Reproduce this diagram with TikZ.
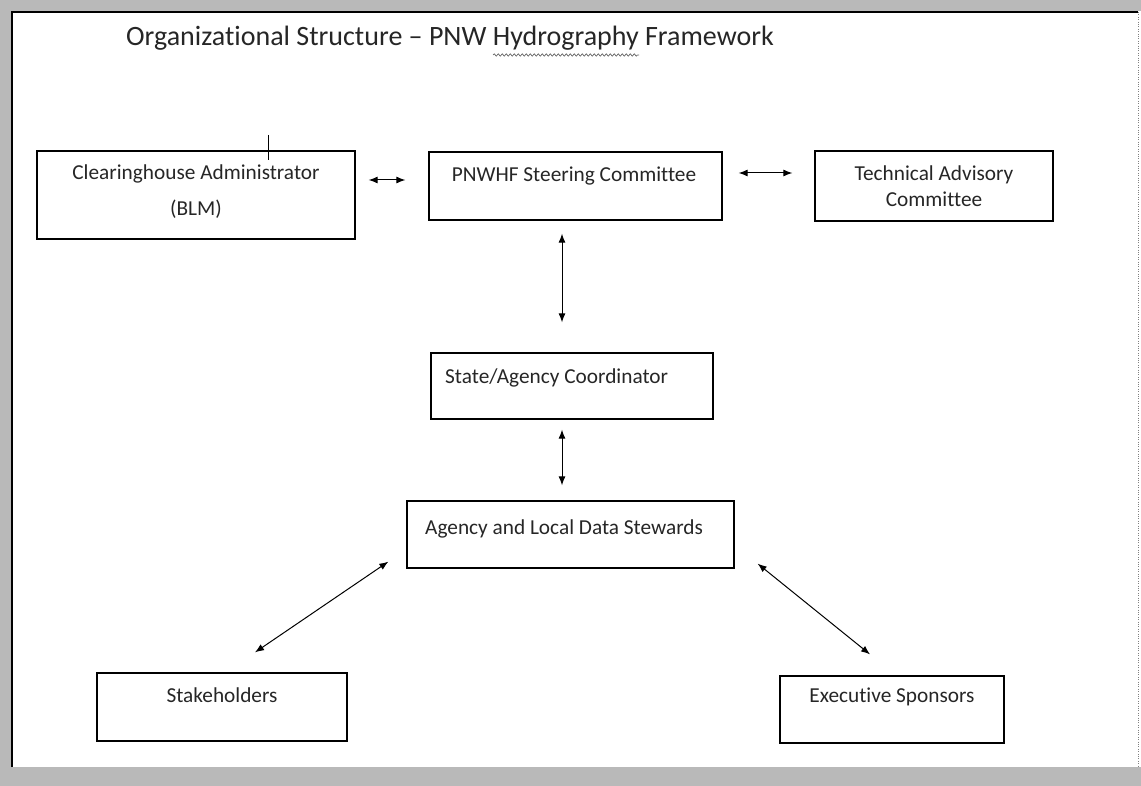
\documentclass[tikz,border=0pt]{standalone}
\usepackage{fontspec}
\setmainfont{Carlito}[Ligatures=NoCommon]
\usetikzlibrary{arrows.meta,decorations.pathmorphing}

\begin{document}
\begin{tikzpicture}[x=1pt,y=-1pt]
	\tikzstyle{every node}+=[inner sep=0pt]
	\tikzstyle{orgbox}=[draw=black,line width=1.3pt]
	\tikzstyle{boxtext}=[font=\fontsize{21.3}{25.5}\selectfont,text=black!85,align=center]
	\tikzstyle{link}=[{Latex[length=9pt,width=7pt]}-{Latex[length=9pt,width=7pt]},line width=1pt]
	\useasboundingbox (0,0) rectangle (1141,786);
	% scanned page edge
	\fill [gray!55] (0,0) rectangle (1141,11);
	\fill [gray!55] (0,0) rectangle (11,786);
	\fill [gray!55] (0,767) rectangle (1141,786);
	\draw [black,line width=2pt] (12,767) -- (12,12) -- (1138,12);
	\draw [gray,line width=0.4pt,dotted] (1138,12) -- (1138,767);
	% title
	\node [anchor=base west,font=\fontsize{28}{33}\selectfont,text=black!85] (title) at (126,46) {Organizational Structure -- PNW Hydrography Framework};
	\draw [gray!80!black,line width=0.7pt,decorate,decoration={snake,amplitude=1.2pt,segment length=4pt}] (493,55) -- (639,55);
	% boxes
	\node [orgbox,minimum width=318pt,minimum height=88pt] (ch) at (196,195) {};
	\node [orgbox,minimum width=293pt,minimum height=68pt] (st) at (575.5,186) {};
	\node [orgbox,minimum width=238pt,minimum height=70pt] (ta) at (934,186) {};
	\node [orgbox,minimum width=282pt,minimum height=66pt] (sa) at (572,386) {};
	\node [orgbox,minimum width=327pt,minimum height=67pt] (ad) at (570.5,534.5) {};
	\node [orgbox,minimum width=250pt,minimum height=68pt] (sh) at (222,707) {};
	\node [orgbox,minimum width=224pt,minimum height=67pt] (es) at (892,709.5) {};
	\draw [black,line width=1pt] (268,135) -- (268,160);
	% box texts
	\node [boxtext] (ch-text) at (196,192) {Clearinghouse Administrator\\[10.5pt](BLM)};
	\node [boxtext] (st-text) at (574,176) {PNWHF Steering Committee};
	\node [boxtext] (ta-text) at (934,186) {Technical Advisory\\Committee};
	\node [boxtext,anchor=west] (sa-text) at (445,378) {State/Agency Coordinator};
	\node [boxtext,anchor=west] (ad-text) at (425,529) {Agency and Local Data Stewards};
	\node [boxtext] (sh-text) at (222,695) {Stakeholders};
	\node [boxtext] (es-text) at (892,697) {Executive Sponsors};
	% connectors
	\draw [link,shorten <=13pt,shorten >=23pt] ([yshift=15pt]ch.east) -- ([yshift=6pt]st.west);
	\draw [link,shorten <=16pt,shorten >=22pt] ([yshift=13pt]st.east) -- ([yshift=13pt]ta.west);
	\draw [link,shorten <=13pt,shorten >=30pt] ([xshift=-13.5pt]st.south) -- ([xshift=-10pt]sa.north);
	\draw [link,shorten <=10pt,shorten >=15pt] ([xshift=-10pt]sa.south) -- ([xshift=-8.5pt]ad.north);
	\draw [link] ([shift={(-18pt,7pt)}]ad.south west) -- ([shift={(33pt,20pt)}]sh.north);
	\draw [link] ([shift={(23pt,5pt)}]ad.south east) -- ([shift={(-22pt,21pt)}]es.north);
\end{tikzpicture}
\end{document}
